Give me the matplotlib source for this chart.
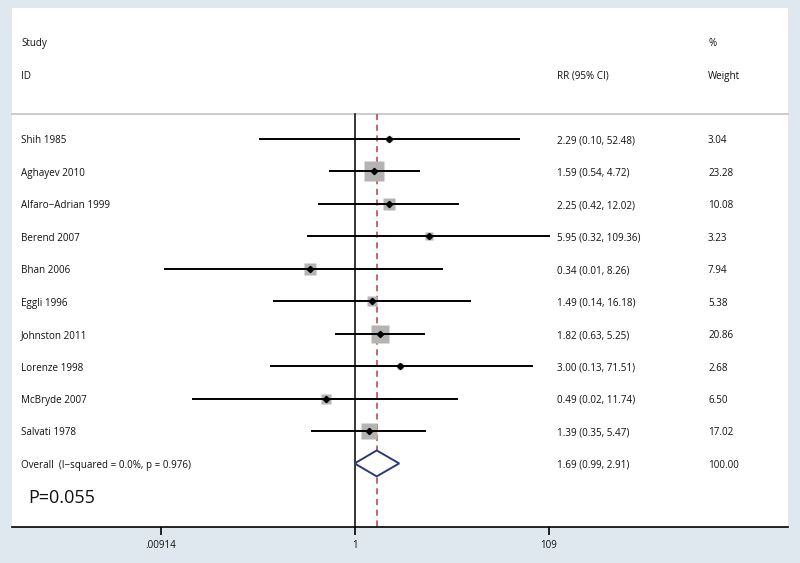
import numpy as np
import matplotlib.pyplot as plt
from matplotlib.patches import Rectangle, Polygon
from matplotlib.transforms import blended_transform_factory

plt.rcParams['font.family'] = ['Open Sans', 'DejaVu Sans']

studies = ['Shih 1985', 'Aghayev 2010', 'Alfaro\u2212Adrian 1999', 'Berend 2007',
           'Bhan 2006', 'Eggli 1996', 'Johnston 2011', 'Lorenze 1998',
           'McBryde 2007', 'Salvati 1978']
rr = [2.29, 1.59, 2.25, 5.95, 0.34, 1.49, 1.82, 3.00, 0.49, 1.39]
lo = [0.10, 0.54, 0.42, 0.32, 0.01, 0.14, 0.63, 0.13, 0.02, 0.35]
hi = [52.48, 4.72, 12.02, 109.36, 8.26, 16.18, 5.25, 71.51, 11.74, 5.47]
weight = [3.04, 23.28, 10.08, 3.23, 7.94, 5.38, 20.86, 2.68, 6.50, 17.02]
overall = (1.69, 0.99, 2.91)
overall_weight = 100.00
overall_label = 'Overall  (I\u2212squared = 0.0%, p = 0.976)'
tick_vals = [0.00914, 1, 109]
tick_labels = ['.00914', '1', '109']

W, H = 800, 563
fig = plt.figure(figsize=(W / 100, H / 100), dpi=100, facecolor='#dfe8ee')
# white panel behind the plot
fig.patches.append(Rectangle((12 / W, (H - 527) / H), 776 / W, 519 / H,
                             transform=fig.transFigure, facecolor='white',
                             edgecolor='none', zorder=0))

ax = fig.add_axes([12 / W, (H - 527) / H, 776 / W, 519 / H])
ax.set_zorder(2)
ax.set_facecolor('none')
ax.set_xscale('log')
ax.set_xlim(10 ** -3.603, 10 ** 4.548)
ax.set_ylim(11.96, -4.04)
for s in ['top', 'left', 'right']:
    ax.spines[s].set_visible(False)
ax.spines['bottom'].set_linewidth(1.2)
ax.set_xticks(tick_vals)
ax.set_xticklabels(tick_labels, fontsize=7, color='#111111')
ax.minorticks_off()
ax.tick_params(axis='x', length=6, width=1.2, pad=3)
ax.set_yticks([])

tr = blended_transform_factory(ax.transAxes, ax.transData)
fs = 7.1
tc = '#111111'
dy = 0.06  # nudge text to visual centre of the row
x_id, x_rr, x_w = 0.0116, 0.702, 0.897


def cell(x, y, s, **kw):
    ax.text(x, y + dy, s, transform=tr, fontsize=kw.pop('size', fs), color=tc,
            va='center', fontweight='medium', **kw)


# header
cell(x_id, -3, 'Study')
cell(x_id, -2, 'ID')
cell(x_rr, -2, 'RR (95% CI)')
cell(x_w, -3, '%')
cell(x_w, -2, 'Weight')
ax.plot([0, 1], [-0.77, -0.77], transform=tr, color='#cccccc', lw=1.4, clip_on=False)

# reference lines
ax.plot([1, 1], [-0.77, 12], color='black', lw=1.1)
ax.plot([overall[0]] * 2, [-0.77, 12], color='#b5403c', lw=1.1, ls=(0, (4, 3)))

for i, name in enumerate(studies):
    ax.plot([lo[i], hi[i]], [i, i], color='black', lw=1.4, zorder=3)
    side = 0.72 * 4.0 * np.sqrt(weight[i])
    ax.plot(rr[i], i, marker='s', ms=side, color='#b4b4b4', mec='none', zorder=2)
    ax.plot(rr[i], i, marker='D', ms=3.2, color='black', zorder=4)
    cell(x_id, i, name)
    cell(x_rr, i, '%.2f (%.2f, %.2f)' % (rr[i], lo[i], hi[i]))
    cell(x_w, i, '%.2f' % weight[i])

n = len(studies)
est, olo, ohi = overall
ax.add_patch(Polygon([[olo, n], [est, n - 0.4], [ohi, n], [est, n + 0.4]],
                     closed=True, facecolor='white', edgecolor='#2e3a78', lw=1.4, zorder=5))
cell(x_id, n, overall_label)
cell(x_rr, n, '%.2f (%.2f, %.2f)' % overall)
cell(x_w, n, '%.2f' % overall_weight)

cell(0.0206, n + 1, 'P=0.055', size=13)

fig.savefig('out.png', dpi=100, facecolor=fig.get_facecolor())
